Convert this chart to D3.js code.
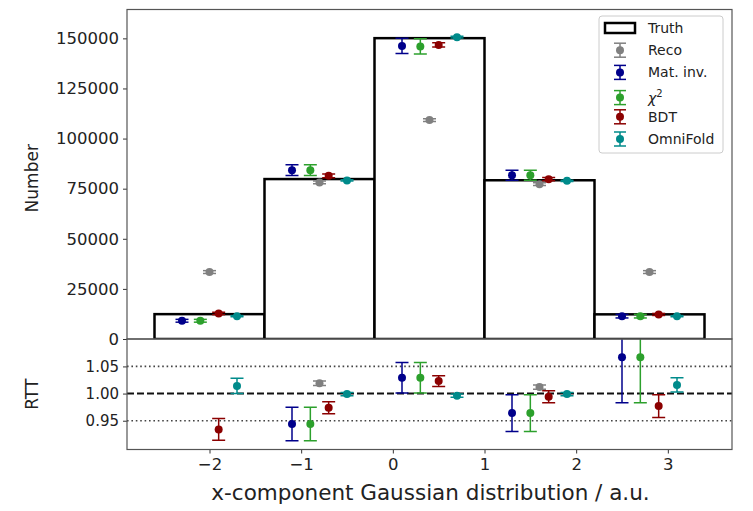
<!DOCTYPE html>
<html>
<head>
<meta charset="utf-8" />
<title>Unfolding comparison</title>
<script src="https://cdn.jsdelivr.net/npm/d3@7"></script>
<style>
  body { margin: 0; background: #fff; }
  text { font-family: "DejaVu Sans", sans-serif; fill: #222; }
</style>
</head>
<body>
<script>
// bins and truth
var edges = [-2.6, -1.4, -0.2, 1.0, 2.2, 3.4];
var centers = [-2.0, -0.8, 0.4, 1.6, 2.8];
var truth = [12400, 79800, 150100, 79200, 12300];

// methods (order = draw / legend order)
var names = ["Reco", "Mat. inv.", "χ²", "BDT", "OmniFold"];
var shifts = [0, -0.3, -0.1, 0.1, 0.3];
var colors = ["#808080", "#00008b", "#2ca02c", "#8b0000", "#008b8b"];

// counts
var reco = [33400, 78100, 109250, 77250, 33400];
var recoErr = [700, 700, 700, 700, 700];
var matInv = [9100, 84250, 146250, 81750, 11400];
var matInvErr = [700, 2700, 3750, 2500, 900];
var chi2 = [9100, 84250, 146000, 81750, 11400];
var chi2Err = [700, 2700, 3750, 2500, 900];
var bdt = [12750, 81400, 146750, 79750, 12250];
var bdtErr = [600, 900, 1100, 800, 500];
var omni = [11400, 79100, 150600, 78900, 11400];
var omniErr = [300, 300, 400, 300, 300];

// ratio to truth
var recoR = [0.37, 1.019, 1.37, 1.012, 0.37];
var recoRErr = [0.02, 0.004, 0.01, 0.004, 0.02];
var matInvR = [1.36, 0.944, 1.029, 0.964, 1.067];
var matInvRErr = [0.1, 0.031, 0.028, 0.034, 0.084];
var chi2R = [1.36, 0.944, 1.029, 0.964, 1.067];
var chi2RErr = [0.1, 0.031, 0.028, 0.034, 0.084];
var bdtR = [0.934, 0.974, 1.023, 0.994, 0.977];
var bdtRErr = [0.02, 0.011, 0.01, 0.011, 0.021];
var omniR = [1.014, 0.999, 0.996, 0.999, 1.016];
var omniRErr = [0.014, 0.003, 0.003, 0.003, 0.013];

var yTicks = [0, 25000, 50000, 75000, 100000, 125000, 150000];
var rTicks = [0.95, 1.00, 1.05];
var xTicks = [-2, -1, 0, 1, 2, 3];

var counts = [reco, matInv, chi2, bdt, omni];
var countErrs = [recoErr, matInvErr, chi2Err, bdtErr, omniErr];
var ratios = [recoR, matInvR, chi2R, bdtR, omniR];
var ratioErrs = [recoRErr, matInvRErr, chi2RErr, bdtRErr, omniRErr];

var width = 753, height = 511;
var left = 127, right = 732;
var top1 = 9.5, bot1 = 339, top2 = 339, bot2 = 449.5;

var x = d3.scaleLinear().domain([-2.9, 3.7]).range([left, right]);
var y = d3.scaleLinear().domain([0, 164400]).range([bot1, top1]);
var r = d3.scaleLinear().domain([0.897, 1.1005]).range([bot2, top2]);

var svg = d3.select("body").append("svg")
    .attr("width", width)
    .attr("height", height);

var defs = svg.append("defs");
defs.append("clipPath").attr("id", "clipTop")
  .append("rect").attr("x", left).attr("y", top1).attr("width", right - left).attr("height", bot1 - top1);
defs.append("clipPath").attr("id", "clipBot")
  .append("rect").attr("x", left).attr("y", top2).attr("width", right - left).attr("height", bot2 - top2);

// ---- top panel ----
var gTop = svg.append("g").attr("clip-path", "url(#clipTop)");

gTop.selectAll("rect.truth")
    .data(truth)
  .enter().append("rect")
    .attr("class", "truth")
    .attr("x", function(d, i) { return x(edges[i]); })
    .attr("width", function(d, i) { return x(edges[i + 1]) - x(edges[i]); })
    .attr("y", function(d) { return y(d); })
    .attr("height", function(d) { return y(0) - y(d); })
    .attr("fill", "#fff")
    .attr("stroke", "#000")
    .attr("stroke-width", 2.5);

function errorbars(g, vals, errs, scale, shift, color) {
    var pts = vals.map(function(v, i) {
        return {x: centers[i] + shift, v: v, e: errs[i]};
    });
    var grp = g.append("g");
    grp.selectAll("line.bar").data(pts).enter().append("line")
        .attr("x1", function(d) { return x(d.x); })
        .attr("x2", function(d) { return x(d.x); })
        .attr("y1", function(d) { return scale(d.v - d.e); })
        .attr("y2", function(d) { return scale(d.v + d.e); })
        .attr("stroke", color).attr("stroke-width", 1.5);
    [-1, 1].forEach(function(s) {
        grp.selectAll("line.cap" + (s + 1)).data(pts).enter().append("line")
            .attr("x1", function(d) { return x(d.x) - 6.5; })
            .attr("x2", function(d) { return x(d.x) + 6.5; })
            .attr("y1", function(d) { return scale(d.v + s * d.e); })
            .attr("y2", function(d) { return scale(d.v + s * d.e); })
            .attr("stroke", color).attr("stroke-width", 1.5);
    });
    grp.selectAll("circle").data(pts).enter().append("circle")
        .attr("cx", function(d) { return x(d.x); })
        .attr("cy", function(d) { return scale(d.v); })
        .attr("r", 4)
        .attr("fill", color);
}

counts.forEach(function(vals, k) {
    errorbars(gTop, vals, countErrs[k], y, shifts[k], colors[k]);
});

// ---- bottom panel ----
var gBot = svg.append("g").attr("clip-path", "url(#clipBot)");

gBot.selectAll("line.ref")
    .data([1.05, 0.95])
  .enter().append("line")
    .attr("x1", left).attr("x2", right)
    .attr("y1", function(d) { return r(d); })
    .attr("y2", function(d) { return r(d); })
    .attr("stroke", "#444").attr("stroke-width", 1.6)
    .attr("stroke-dasharray", "1.6,2.8");

gBot.append("line")
    .attr("x1", left).attr("x2", right)
    .attr("y1", r(1)).attr("y2", r(1))
    .attr("stroke", "#111").attr("stroke-width", 2)
    .attr("stroke-dasharray", "7,3");

ratios.forEach(function(vals, k) {
    errorbars(gBot, vals, ratioErrs[k], r, shifts[k], colors[k]);
});

// ---- axes ----
var yAxis = d3.axisLeft(y).tickValues(yTicks).tickSize(4).tickPadding(4)
    .tickFormat(d3.format("d"));
var rAxis = d3.axisLeft(r).tickValues(rTicks).tickSize(4).tickPadding(4)
    .tickFormat(d3.format(".2f"));
var xAxis = d3.axisBottom(x).tickValues(xTicks).tickSize(4).tickPadding(5)
    .tickFormat(function(d) { return d < 0 ? "\u2212" + Math.abs(d) : d; });

var ga = svg.append("g").attr("transform", "translate(" + left + ",0)").call(yAxis);
ga.selectAll("text").style("font-size", "16.5px");
var gr = svg.append("g").attr("transform", "translate(" + left + ",0)").call(rAxis);
gr.selectAll("text").style("font-size", "15px");
var gx = svg.append("g").attr("transform", "translate(0," + bot2 + ")").call(xAxis);
gx.selectAll("text").style("font-size", "16.5px");

[ga, gr, gx].forEach(function(g) {
    g.select(".domain").remove();
    g.selectAll(".tick line").attr("stroke", "#333");
});

// frames
[[top1, bot1], [top2, bot2]].forEach(function(p) {
    svg.append("rect")
        .attr("x", left).attr("y", p[0])
        .attr("width", right - left).attr("height", p[1] - p[0])
        .attr("fill", "none").attr("stroke", "#555").attr("stroke-width", 1.2);
});

// labels
svg.append("text")
    .attr("transform", "translate(38," + ((top1 + bot1) / 2 + 4) + ") rotate(-90)")
    .attr("text-anchor", "middle")
    .style("font-size", "17px")
    .text("Number");
svg.append("text")
    .attr("transform", "translate(38," + ((top2 + bot2) / 2) + ") rotate(-90)")
    .attr("text-anchor", "middle")
    .style("font-size", "17px")
    .text("RTT");
svg.append("text")
    .attr("x", (left + right) / 2 + 1).attr("y", 500)
    .attr("text-anchor", "middle")
    .style("font-size", "21.5px")
    .text("x-component Gaussian distribution / a.u.");

// ---- legend ----
var leg = svg.append("g");
leg.append("rect")
    .attr("x", 599).attr("y", 16).attr("width", 124).attr("height", 137)
    .attr("rx", 3)
    .attr("fill", "#fff").attr("fill-opacity", 0.8)
    .attr("stroke", "#ccc");

var rowY = d3.scalePoint().domain(["Truth"].concat(names)).range([28, 139]);

leg.append("rect")
    .attr("x", 605).attr("y", rowY("Truth") - 5)
    .attr("width", 30).attr("height", 10)
    .attr("fill", "#fff").attr("stroke", "#000").attr("stroke-width", 2.5);
leg.append("text").attr("x", 648).attr("y", rowY("Truth") + 5)
    .style("font-size", "14px").text("Truth");

names.forEach(function(n, k) {
    var cy = rowY(n) + (n === "χ²" ? 3 : 0);
    var c = colors[k];
    leg.append("line").attr("x1", 620).attr("x2", 620)
        .attr("y1", cy - 7).attr("y2", cy + 7).attr("stroke", c).attr("stroke-width", 1.5);
    [-7, 7].forEach(function(dy) {
        leg.append("line").attr("x1", 614).attr("x2", 626)
            .attr("y1", cy + dy).attr("y2", cy + dy).attr("stroke", c).attr("stroke-width", 1.5);
    });
    leg.append("circle").attr("cx", 620).attr("cy", cy).attr("r", 4).attr("fill", c);
    var t = leg.append("text").attr("x", 648).attr("y", cy + 5).style("font-size", "14px");
    if (n === "χ²") {
        t.append("tspan").style("font-style", "italic").text("χ");
        t.append("tspan").attr("dy", -6).style("font-size", "10px").text("2");
    } else {
        t.text(n);
    }
});
</script>
</body>
</html>
